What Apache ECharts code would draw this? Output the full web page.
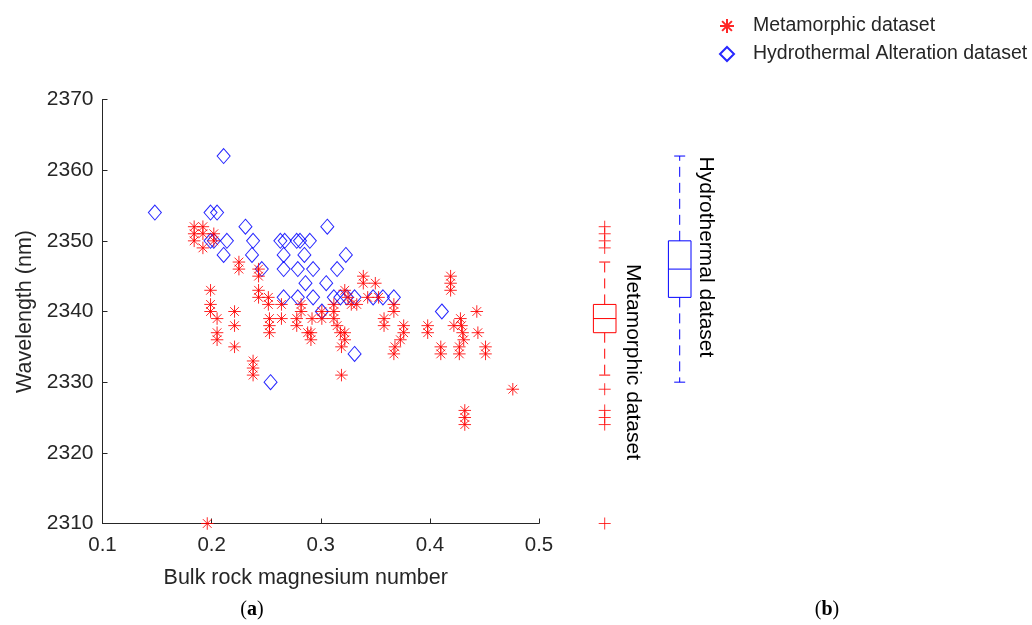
<!DOCTYPE html>
<html>
<head>
<meta charset="utf-8">
<title>Wavelength vs bulk rock magnesium number</title>
<script src="https://cdn.jsdelivr.net/npm/echarts@6/dist/echarts.min.js"></script>
<style>
  html, body { margin: 0; padding: 0; background: #ffffff; }
  #chart { width: 1032px; height: 625px; }
</style>
</head>
<body>
<div id="chart"></div>
<script>
// ---- data ----
const seriesNames = ['Metamorphic dataset', 'Hydrothermal Alteration dataset'];

// Metamorphic dataset: [Mg number, wavelength (nm)]
const metamorphic = [
  [0.184, 2352], [0.192, 2352], [0.184, 2351], [0.192, 2351], [0.184, 2350],
  [0.202, 2351], [0.202, 2350], [0.192, 2349], [0.225, 2347], [0.225, 2346],
  [0.199, 2343], [0.199, 2341], [0.199, 2340], [0.205, 2339], [0.205, 2337],
  [0.205, 2336], [0.221, 2340], [0.221, 2338], [0.221, 2335], [0.243, 2346],
  [0.243, 2345], [0.243, 2343], [0.243, 2342], [0.238, 2333], [0.238, 2332],
  [0.238, 2331], [0.252, 2342], [0.252, 2341], [0.253, 2339], [0.253, 2338],
  [0.253, 2337], [0.264, 2341], [0.264, 2339], [0.278, 2339], [0.278, 2338],
  [0.282, 2341], [0.282, 2340], [0.288, 2337], [0.291, 2337], [0.291, 2336],
  [0.292, 2339], [0.301, 2339], [0.301, 2340], [0.312, 2341], [0.312, 2340],
  [0.312, 2339], [0.315, 2338], [0.318, 2337], [0.322, 2337], [0.322, 2336],
  [0.319, 2335], [0.328, 2341], [0.339, 2345], [0.339, 2344], [0.350, 2344],
  [0.322, 2343], [0.319, 2331], [0.325, 2342], [0.333, 2341], [0.343, 2342],
  [0.353, 2342], [0.358, 2339], [0.358, 2338], [0.367, 2341], [0.367, 2340],
  [0.376, 2338], [0.376, 2337], [0.373, 2336], [0.368, 2335], [0.367, 2334],
  [0.398, 2338], [0.398, 2337], [0.410, 2335], [0.410, 2334], [0.419, 2345],
  [0.419, 2344], [0.419, 2343], [0.422, 2338], [0.428, 2339], [0.429, 2338],
  [0.430, 2337], [0.431, 2336], [0.427, 2335], [0.427, 2334], [0.443, 2340],
  [0.444, 2337], [0.451, 2335], [0.451, 2334], [0.476, 2329], [0.432, 2326],
  [0.432, 2325], [0.432, 2324], [0.196, 2310]
];

// Hydrothermal Alteration dataset: [Mg number, wavelength (nm)]
const hydrothermal = [
  [0.148, 2354], [0.199, 2354], [0.205, 2354], [0.211, 2362], [0.231, 2352],
  [0.306, 2352], [0.199, 2350], [0.202, 2350], [0.214, 2350], [0.238, 2350],
  [0.263, 2350], [0.267, 2350], [0.278, 2350], [0.281, 2350], [0.290, 2350],
  [0.211, 2348], [0.237, 2348], [0.266, 2348], [0.285, 2348], [0.323, 2348],
  [0.246, 2346], [0.266, 2346], [0.279, 2346], [0.293, 2346], [0.315, 2346],
  [0.286, 2344], [0.305, 2344], [0.266, 2342], [0.279, 2342], [0.293, 2342],
  [0.312, 2342], [0.318, 2342], [0.324, 2342], [0.331, 2342], [0.348, 2342],
  [0.357, 2342], [0.367, 2342], [0.301, 2340], [0.411, 2340], [0.331, 2334],
  [0.254, 2330]
];

// Box plot summaries: [position, lower whisker, Q1, median, Q3, upper whisker]
const boxMetamorphic = [1, 2331, 2337, 2339, 2341, 2347];
const boxHydrothermal = [2, 2330, 2342, 2346, 2350, 2362];
// Outliers beyond the whiskers: [position, wavelength]
const outliersMetamorphic = [
  [1, 2352], [1, 2351], [1, 2350], [1, 2349],
  [1, 2329], [1, 2326], [1, 2325], [1, 2324], [1, 2310]
];
const boxLabels = ['Metamorphic dataset', 'Hydrothermal dataset'];

const xTicks = { min: 0.1, max: 0.5, interval: 0.1 };
const yTicks = { min: 2310, max: 2370, interval: 10 };

// ---- styles ----
const RED = '#ff0000';
const BLUE = '#0000ff';
const INK = '#262626';
const FONT = '"Liberation Sans", Arial, Helvetica, sans-serif';
const SERIF = '"Liberation Serif", "DejaVu Serif", serif';
const ASTERISK = 'path://M10,0L10,20M0,10L20,10M3,3L17,17M3,17L17,3';
const PLUS = 'path://M10,0L10,20M0,10L20,10';
const boxColors = [RED, BLUE];

const plotTop = 99.5, plotHeight = 424;

function renderBox(params, api) {
  const pos = api.value(0);
  const color = boxColors[params.dataIndex];
  const pt = (k) => api.coord([pos, api.value(k)]);
  const lo = pt(1), q1 = pt(2), med = pt(3), q3 = pt(4), hi = pt(5);
  const cx = lo[0];
  const half = 11.3, cap = 5.5;
  const solid = { stroke: color, lineWidth: 1, fill: null };
  const dashed = { stroke: color, lineWidth: 1, lineDash: [10, 6], fill: null };
  return {
    type: 'group',
    children: [
      { type: 'line', shape: { x1: cx, y1: q3[1], x2: cx, y2: hi[1] }, style: dashed },
      { type: 'line', shape: { x1: cx, y1: q1[1], x2: cx, y2: lo[1] }, style: dashed },
      { type: 'line', shape: { x1: cx - cap, y1: hi[1], x2: cx + cap, y2: hi[1] }, style: solid },
      { type: 'line', shape: { x1: cx - cap, y1: lo[1], x2: cx + cap, y2: lo[1] }, style: solid },
      { type: 'rect', shape: { x: cx - half, y: q3[1], width: half * 2, height: q1[1] - q3[1] }, style: solid },
      { type: 'line', shape: { x1: cx - half, y1: med[1], x2: cx + half, y2: med[1] }, style: solid }
    ]
  };
}

function serifTag(letter) {
  return {
    text: '{p|(}{b|' + letter + '}{p|)}', align: 'center', verticalAlign: 'middle',
    rich: {
      p: { fontSize: 20, fontFamily: SERIF, fill: '#000' },
      b: { fontSize: 20, fontWeight: 'bold', fontFamily: SERIF, fill: '#000' }
    }
  };
}

const chart = echarts.init(document.getElementById('chart'), null, { renderer: 'canvas' });

chart.setOption({
  backgroundColor: '#ffffff',
  animation: false,
  textStyle: { fontFamily: FONT },
  legend: {
    orient: 'vertical',
    left: 714,
    top: 11,
    itemGap: 8,
    itemWidth: 14,
    itemHeight: 14,
    data: [
      { name: seriesNames[0], icon: ASTERISK },
      { name: seriesNames[1], icon: 'diamond' }
    ],
    textStyle: { fontSize: 19.5, color: INK, fontFamily: FONT, padding: [0, 0, 0, 14] }
  },
  grid: [
    { left: 102.5, top: plotTop, width: 436.5, height: plotHeight },
    { left: 567.2, top: plotTop, width: 150, height: plotHeight }
  ],
  xAxis: [
    {
      gridIndex: 0,
      type: 'value',
      min: xTicks.min, max: xTicks.max, interval: xTicks.interval,
      name: 'Bulk rock magnesium number',
      nameLocation: 'middle',
      nameGap: 44,
      nameTextStyle: { fontSize: 21.5, color: INK, fontFamily: FONT, padding: [0, 30, 0, 0] },
      axisLine: { show: true, lineStyle: { color: INK, width: 1 } },
      axisTick: { show: true, inside: true, length: 5, lineStyle: { color: INK } },
      axisLabel: { fontSize: 20.5, color: INK, margin: 11, fontFamily: FONT,
        formatter: (v) => v.toFixed(1) },
      splitLine: { show: false }
    },
    {
      gridIndex: 1,
      type: 'value',
      min: 0.5, max: 2.5,
      show: false
    }
  ],
  yAxis: [
    {
      gridIndex: 0,
      type: 'value',
      min: yTicks.min, max: yTicks.max, interval: yTicks.interval,
      name: 'Wavelength (nm)',
      nameLocation: 'middle',
      nameGap: 66,
      nameTextStyle: { fontSize: 21.5, color: INK, fontFamily: FONT },
      axisLine: { show: true, lineStyle: { color: INK, width: 1 } },
      axisTick: { show: true, inside: true, length: 5, lineStyle: { color: INK } },
      axisLabel: { fontSize: 21, color: INK, margin: 9, fontFamily: FONT,
        formatter: (v) => String(v) },
      splitLine: { show: false }
    },
    {
      gridIndex: 1,
      type: 'value',
      min: yTicks.min, max: yTicks.max,
      show: false
    }
  ],
  series: [
    {
      name: seriesNames[0],
      type: 'scatter',
      xAxisIndex: 0, yAxisIndex: 0,
      data: metamorphic,
      symbol: ASTERISK,
      symbolSize: 12.5,
      itemStyle: { color: 'rgba(0,0,0,0)', borderColor: RED, borderWidth: 1, opacity: 0.85 },
      z: 3
    },
    {
      name: seriesNames[1],
      type: 'scatter',
      xAxisIndex: 0, yAxisIndex: 0,
      data: hydrothermal,
      symbol: 'diamond',
      symbolSize: [13, 15],
      itemStyle: { color: 'rgba(0,0,0,0)', borderColor: BLUE, borderWidth: 1, opacity: 0.85 },
      z: 2
    },
    {
      name: 'box',
      type: 'custom',
      xAxisIndex: 1, yAxisIndex: 1,
      renderItem: renderBox,
      data: [boxMetamorphic, boxHydrothermal],
      encode: { x: 0, y: [1, 2, 3, 4, 5] },
      silent: true
    },
    {
      name: 'outliers',
      type: 'scatter',
      xAxisIndex: 1, yAxisIndex: 1,
      data: outliersMetamorphic,
      symbol: PLUS,
      symbolSize: 12,
      itemStyle: { color: 'rgba(0,0,0,0)', borderColor: RED, borderWidth: 1 },
      silent: true
    }
  ],
  graphic: [
    {
      type: 'text', x: 633, y: 362, rotation: -Math.PI / 2,
      style: { text: boxLabels[0], fontSize: 21, fill: '#000', fontFamily: FONT,
        align: 'center', verticalAlign: 'middle' }
    },
    {
      type: 'text', x: 706, y: 257, rotation: -Math.PI / 2,
      style: { text: boxLabels[1], fontSize: 21, fill: '#000', fontFamily: FONT,
        align: 'center', verticalAlign: 'middle' }
    },
    { type: 'text', x: 252, y: 610, style: serifTag('a') },
    { type: 'text', x: 827, y: 610, style: serifTag('b') }
  ]
});
</script>
</body>
</html>
